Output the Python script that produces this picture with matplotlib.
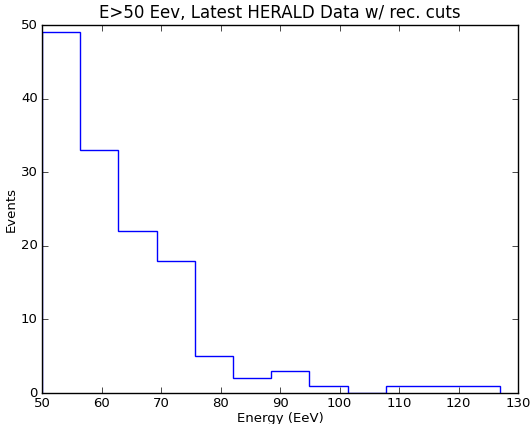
import numpy as np
import matplotlib
matplotlib.use('Agg')
import matplotlib.pyplot as plt

plt.style.use('classic')

# event counts per energy bin (EeV), 12 equal bins from 50 to 127
bin_edges = np.linspace(50, 127, 13)
counts = [49, 33, 22, 18, 5, 2, 3, 1, 0, 1, 1, 1]

fig = plt.figure(figsize=(5.32, 4.24), dpi=100)
ax = fig.add_axes([0.079, 0.073, 0.895, 0.868])
ax.stairs(counts, bin_edges, color='b', linewidth=1)
ax.set_xlim(50, 130)
ax.set_ylim(0, 50)
ax.set_xticks(np.arange(50, 131, 10))
ax.set_yticks(np.arange(0, 51, 10))
ax.tick_params(labelsize=9.5)
ax.tick_params(axis='x', pad=3)
ax.tick_params(axis='y', pad=3)
ax.set_xlabel("Energy (EeV)", fontsize=9.5, labelpad=1)
ax.set_ylabel("Events", fontsize=9.5, labelpad=2)
ax.set_title("E>50 Eev, Latest HERALD Data w/ rec. cuts", fontsize=12)
fig.savefig('out.png', dpi=100, facecolor='white')
